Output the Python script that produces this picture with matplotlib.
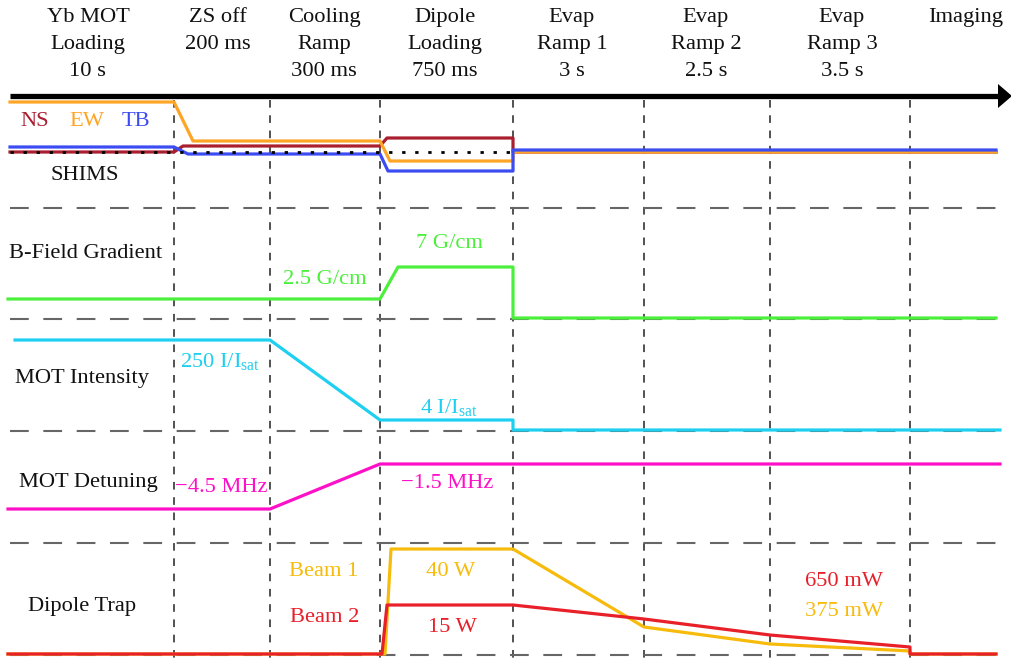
import matplotlib
matplotlib.use("Agg")
import matplotlib.pyplot as plt

# ---------------- data ----------------
phase_labels = ["Yb MOT\nLoading\n10 s", "ZS off\n200 ms", "Cooling\nRamp\n300 ms",
                "Dipole\nLoading\n750 ms", "Evap\nRamp 1\n3 s", "Evap\nRamp 2\n2.5 s",
                "Evap\nRamp 3\n3.5 s", "Imaging"]
phase_label_x = [88, 218, 324, 445, 572, 706, 842, 966]
phase_edges = [174, 270, 380, 513, 644, 770, 910]

row_labels = ["SHIMS", "B-Field Gradient", "MOT Intensity", "MOT Detuning", "Dipole Trap"]
row_label_pos = [(85, 176), (86, 254), (82, 379), (88, 483), (82, 606)]
row_separators = [208, 319, 431, 543, 655]

# SHIMS
shim_zero_t = [10, 513]
shim_zero_y = [151.5, 151.5]
ns_t = [10, 174, 183, 380, 387, 513, 513, 996]
ns_y = [152, 152, 146, 146, 138, 138, 152, 152]
ew_t = [10, 174, 193, 380, 390, 513, 513, 996]
ew_y = [102, 102, 141, 141, 161, 161, 152, 152]
tb_t = [10, 174, 188, 380, 388, 513, 513, 996]
tb_y = [147, 147, 154, 154, 171, 171, 150, 150]

# B-field gradient
grad_t = [8, 380, 398, 513, 513, 996]
grad_y = [299, 299, 267, 267, 318, 318]

# MOT intensity
int_t = [15, 270, 380, 513, 513, 1000]
int_y = [340, 340, 420, 420, 430, 430]

# MOT detuning
det_t = [8, 270, 380, 1000]
det_y = [509, 509, 464, 464]

# Dipole trap
beam1_t = [8, 385, 391, 513, 644, 770, 910, 910, 996]
beam1_y = [654, 654, 549, 549, 627, 644, 651, 654, 654]
beam2_t = [8, 382, 387, 513, 644, 770, 910, 910, 996]
beam2_y = [654, 654, 605, 605, 619, 635, 647, 654, 654]

# ---------------- style ----------------
C_NS = "#a91f30"
C_EW = "#ffa526"
C_TB = "#3b4cf2"
C_GRAD = "#4cf03c"
C_INT = "#1ed0f0"
C_DET = "#ff10c8"
C_B1 = "#f7bb0c"
C_B2 = "#e8202a"

plt.rcParams['font.family'] = ['Liberation Serif', 'DejaVu Serif']
plt.rcParams['mathtext.fontset'] = 'custom'
plt.rcParams['mathtext.rm'] = 'Liberation Serif'
plt.rcParams['mathtext.it'] = 'Liberation Serif:italic'

FS = 16.2
fig = plt.figure(figsize=(10.12, 6.59), dpi=100)
ax = fig.add_axes([0, 0, 1, 1])
ax.set_xlim(0, 1012)
ax.set_ylim(659, 0)
ax.axis('off')

# time axis arrow
ax.plot([10, 999], [96, 96], color='black', lw=3.8, solid_capstyle='butt', zorder=5)
ax.fill([998, 1012, 998], [84, 96, 108], color='black', zorder=5, lw=0)

# vertical phase separators
for x in phase_edges:
    ax.plot([x, x], [100, 659], color='#222222', lw=1.1, dashes=(5, 5), zorder=1)

# horizontal row separators
for y in row_separators:
    ax.plot([10, 1000], [y, y], color='#666666', lw=1.5, dashes=(9, 7), zorder=1)

# header labels
for lab, x in zip(phase_labels, phase_label_x):
    ax.text(x, 8, lab, ha='center', va='top', fontsize=FS, linespacing=1.58, color='#111111')

# row labels
for lab, (x, y) in zip(row_labels, row_label_pos):
    ax.text(x, y, lab, ha='center', va='center', fontsize=FS, color='#111111')

LW = 2.3
# SHIMS
ax.plot(ns_t, ns_y, color=C_NS, lw=LW, zorder=3)
ax.plot(ew_t, ew_y, color=C_EW, lw=LW, zorder=3)
ax.plot(tb_t, tb_y, color=C_TB, lw=LW, zorder=4)
ax.plot(shim_zero_t, shim_zero_y, color='black', lw=2.0, dashes=(1.2, 3.5), zorder=4)
ax.text(35, 121, "NS", ha='center', va='center', fontsize=FS, color=C_NS)
ax.text(87, 121, "EW", ha='center', va='center', fontsize=FS, color=C_EW)
ax.text(136, 121, "TB", ha='center', va='center', fontsize=FS, color=C_TB)

# gradient
ax.plot(grad_t, grad_y, color=C_GRAD, lw=LW, zorder=3)
ax.text(325, 280, "2.5 G/cm", ha='center', va='center', fontsize=FS, color=C_GRAD)
ax.text(449, 243, "7 G/cm", ha='center', va='center', fontsize=FS, color=C_GRAD)

# intensity
ax.plot(int_t, int_y, color=C_INT, lw=LW, zorder=3)
ax.text(220, 362, r"250 I/I$_{\mathrm{sat}}$", ha='center', va='center', fontsize=FS, color=C_INT)
ax.text(449, 407, r"4 I/I$_{\mathrm{sat}}$", ha='center', va='center', fontsize=FS, color=C_INT)

# detuning
ax.plot(det_t, det_y, color=C_DET, lw=LW, zorder=3)
ax.text(221, 487, "\u22124.5 MHz", ha='center', va='center', fontsize=FS, color=C_DET)
ax.text(447, 484, "\u22121.5 MHz", ha='center', va='center', fontsize=FS, color=C_DET)

# dipole trap
ax.plot(beam1_t, beam1_y, color=C_B1, lw=LW, zorder=3)
ax.plot(beam2_t, beam2_y, color=C_B2, lw=LW, zorder=4)
ax.text(324, 571, "Beam 1", ha='center', va='center', fontsize=FS, color=C_B1)
ax.text(325, 617, "Beam 2", ha='center', va='center', fontsize=FS, color=C_B2)
ax.text(451, 572, "40 W", ha='center', va='center', fontsize=FS, color=C_B1)
ax.text(452, 627, "15 W", ha='center', va='center', fontsize=FS, color=C_B2)
ax.text(844, 582, "650 mW", ha='center', va='center', fontsize=FS, color=C_B2)
ax.text(844, 611, "375 mW", ha='center', va='center', fontsize=FS, color=C_B1)

fig.savefig("out.png", dpi=100)
